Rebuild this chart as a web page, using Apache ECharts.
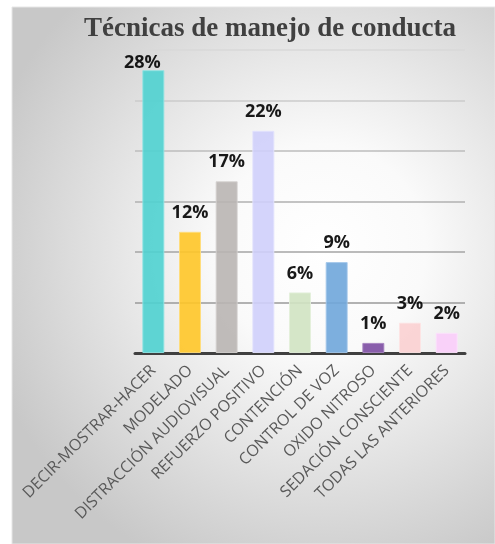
<!DOCTYPE html>
<html>
<head>
<meta charset="utf-8">
<script src="https://cdn.jsdelivr.net/npm/echarts@6/dist/echarts.min.js"></script>
<style>
  html, body { margin: 0; padding: 0; background: #ffffff; }
  #chart { width: 495px; height: 544px; }
</style>
</head>
<body>
<div id="chart"></div>
<script>
// Técnicas de manejo de conducta: porcentaje por técnica
const categories = [
  'DECIR-MOSTRAR-HACER',
  'MODELADO',
  'DISTRACCIÓN AUDIOVISUAL',
  'REFUERZO POSITIVO',
  'CONTENCIÓN',
  'CONTROL DE VOZ',
  'OXIDO NITROSO',
  'SEDACIÓN CONSCIENTE',
  'TODAS LAS ANTERIORES'
];
const percentages = [28, 12, 17, 22, 6, 9, 1, 3, 2];
const barColors = ['#4fd1d0', '#ffc628', '#b9b5b2', '#cfcffb', '#d0e3c2', '#6fa6da', '#7c4ca2', '#fbd0d1', '#f9cdf9'];
const barEdges  = ['#8ee3e2', '#ffdd7a', '#d4d1cf', '#e2e2fd', '#e3efda', '#a3c6ea', '#a684c0', '#fde3e3', '#fce2fc'];

const chart = echarts.init(document.getElementById('chart'), null, { renderer: 'canvas' });

const barData = percentages.map((v, i) => {
  const item = {
    value: v,
    itemStyle: { color: barColors[i], borderColor: barEdges[i], borderWidth: 1, opacity: 0.9 }
  };
  if (i === 0) item.label = { offset: [-11, 12] };
  return item;
});

chart.setOption({
  animation: false,
  graphic: [{
    type: 'rect',
    z: -10,
    silent: true,
    shape: { x: 12, y: 7, width: 483, height: 537 },
    style: {
      fill: {
        type: 'radial', x: 0.64, y: 0.45, r: 0.72,
        colorStops: [
          { offset: 0, color: '#ffffff' },
          { offset: 0.3, color: '#fafafa' },
          { offset: 1, color: '#c8c8c8' }
        ]
      },
      stroke: '#e6e6e6',
      lineWidth: 1
    }
  }],
  title: {
    text: 'Técnicas de manejo de conducta',
    left: 79,
    top: 11,
    textStyle: {
      fontFamily: 'Liberation Serif',
      fontWeight: 'bold',
      fontSize: 27,
      color: '#404040'
    }
  },
  grid: { left: 135, right: 30, top: 50, bottom: 191, containLabel: false },
  xAxis: {
    type: 'category',
    data: categories,
    axisLine: { show: true, lineStyle: { color: '#404040', width: 3 } },
    axisTick: { show: false },
    axisLabel: {
      rotate: 45,
      interval: 0,
      margin: 15,
      color: '#595959',
      fontFamily: 'Open Sans',
      fontSize: 16
    }
  },
  yAxis: {
    type: 'value',
    min: 0,
    max: 30,
    interval: 5,
    axisLabel: { show: false },
    axisLine: { show: false },
    axisTick: { show: false },
    splitLine: {
      show: true,
      lineStyle: {
        width: 1.5,
        color: ['#404040', '#9a9a9a', '#a4a4a4', '#b0b0b0', '#bdbdbd', '#cbcbcb', '#d8d8d8']
      }
    }
  },
  series: [{
    type: 'bar',
    data: barData,
    barWidth: 22,
    z: 1,
    label: {
      show: true,
      position: 'top',
      distance: 10,
      formatter: '{c}%',
      fontFamily: 'Open Sans',
      fontWeight: 'bold',
      fontSize: 18,
      color: '#000000'
    }
  }]
});
</script>
</body>
</html>
